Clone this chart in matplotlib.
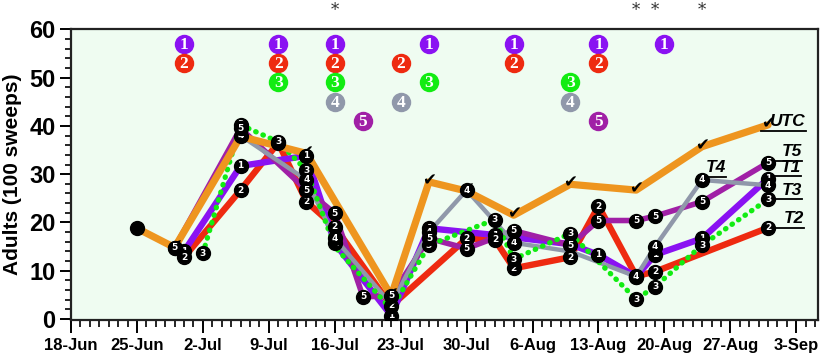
import matplotlib
matplotlib.use("Agg")
import matplotlib.pyplot as plt
import matplotlib.ticker as mticker
import matplotlib.transforms as mtransforms
import pandas as pd

YEAR = "2015"


def dt(s):
    return pd.Timestamp(f"{s}-{YEAR}")


# --- data --------------------------------------------------------------
utc_dates = ["25-Jun", "29-Jun", "6-Jul", "13-Jul", "22-Jul", "26-Jul", "30-Jul",
             "4-Aug", "10-Aug", "17-Aug", "24-Aug", "31-Aug"]
utc_vals = [18.8, 14.8, 37.8, 34.3, 4.8, 28.4, 26.5, 21.5, 27.9, 26.7, 35.7, 40.2]

t1_dates = ["30-Jun", "6-Jul", "13-Jul", "16-Jul", "22-Jul", "26-Jul",
            "2-Aug", "10-Aug", "13-Aug", "17-Aug", "19-Aug", "24-Aug", "31-Aug"]
t1_vals = [14.0, 31.7, 33.8, 15.7, 0.7, 18.8, 17.4, 15.5, 13.3, 8.8, 13.3, 16.7, 29.1]

t2_dates = ["30-Jun", "6-Jul", "10-Jul", "13-Jul", "16-Jul", "22-Jul", "30-Jul", "2-Aug",
            "4-Aug", "10-Aug", "13-Aug", "17-Aug", "19-Aug", "31-Aug"]
t2_vals = [12.8, 26.7, 36.5, 24.3, 19.1, 2.7, 16.7, 16.4, 10.5, 12.8, 23.4, 8.9, 9.8, 18.9]

t3_dates = ["2-Jul", "6-Jul", "10-Jul", "13-Jul", "16-Jul", "22-Jul", "26-Jul", "2-Aug",
            "4-Aug", "10-Aug", "17-Aug", "19-Aug", "24-Aug", "31-Aug"]
t3_vals = [13.6, 40.2, 36.7, 30.8, 15.0, 2.0, 15.3, 20.6, 12.4, 17.7, 4.1, 6.7, 15.3, 24.8]

t4_dates = ["29-Jun", "6-Jul", "13-Jul", "16-Jul", "22-Jul", "26-Jul", "30-Jul", "4-Aug",
            "10-Aug", "17-Aug", "19-Aug", "24-Aug", "31-Aug"]
t4_vals = [14.8, 38.0, 28.8, 16.7, 3.0, 18.0, 26.7, 15.8, 14.0, 8.8, 15.0, 28.8, 27.7]

t5_dates = ["29-Jun", "6-Jul", "13-Jul", "16-Jul", "19-Jul", "22-Jul", "26-Jul", "30-Jul",
            "4-Aug", "10-Aug", "13-Aug", "17-Aug", "19-Aug", "24-Aug", "31-Aug"]
t5_vals = [14.8, 39.5, 26.7, 21.9, 4.6, 4.8, 16.7, 14.6, 18.3, 15.3, 20.4, 20.4, 21.3, 24.3, 32.4]

# points whose marker is hidden in the original
no_marker = {(3, "16-Jul"), (4, "10-Aug"), (1, "10-Aug"), (3, "22-Jul"), (4, "22-Jul")}

# spray dates per treatment (coloured numbered circles at top)
spray_dates = {
    1: ["30-Jun", "10-Jul", "16-Jul", "26-Jul", "4-Aug", "13-Aug", "20-Aug"],
    2: ["30-Jun", "10-Jul", "16-Jul", "23-Jul", "4-Aug", "13-Aug"],
    3: ["10-Jul", "16-Jul", "26-Jul", "10-Aug"],
    4: ["16-Jul", "23-Jul", "10-Aug"],
    5: ["19-Jul", "13-Aug"],
}
star_dates = ["16-Jul", "17-Aug", "19-Aug", "24-Aug"]

tick_start = "18-Jun"
n_ticks = 12

# --- styles --------------------------------------------------------------
c_t1 = "#8A12F2"
c_t2 = "#EE2A10"
c_t3 = "#12EC12"
c_t4 = "#9098AA"
c_t5 = "#A020A6"
c_utc = "#EE951F"
bg = "#EFFCF1"

fig = plt.figure(figsize=(8.21, 3.53), dpi=100)
ax = fig.add_axes([0.0865, 0.0935, 0.9098, 0.8235])
ax.set_facecolor(bg)

series = {
    1: (t1_dates, t1_vals, c_t1, 4.6, "-"),
    2: (t2_dates, t2_vals, c_t2, 4.6, "-"),
    3: (t3_dates, t3_vals, c_t3, 3.8, (0, (0.1, 1.4))),
    4: (t4_dates, t4_vals, c_t4, 3.2, "-"),
    5: (t5_dates, t5_vals, c_t5, 4.0, "-"),
}
line_order = [2, 1, 5, 4, 3]
marker_order = [1, 2, 3, 4, 5]

for num in line_order:
    ds, vs, col, lw, ls = series[num]
    xs = [dt(s) for s in ds]
    ax.plot(xs, vs, color=col, lw=lw, ls=ls, solid_capstyle="round",
            dash_capstyle="round", solid_joinstyle="round", zorder=2)

utc_x = [dt(s) for s in utc_dates]
ax.plot(utc_x, utc_vals, color=c_utc, lw=5.2, solid_joinstyle="round",
        solid_capstyle="round", zorder=3)

# UTC check marks
for x, y in zip(utc_x[1:], utc_vals[1:]):
    ax.text(x, y + 0.3, "\u2714", ha="center", va="center", fontsize=12,
            color="black", family="DejaVu Sans", zorder=4)
ax.plot(utc_x[0], utc_vals[0], "o", ms=10, color="black", zorder=5)

# numbered black markers
z = 5
for num in marker_order:
    ds, vs, col, lw, ls = series[num]
    for s, v in zip(ds, vs):
        if (num, s) in no_marker:
            continue
        ax.plot(dt(s), v, "o", ms=10, color="black", zorder=z)
        ax.text(dt(s), v, str(num), ha="center", va="center", color="white",
                fontsize=6.5, fontweight="bold", zorder=z + 0.5)
    z += 1

# spray circles at the top
spray_cols = {1: c_t1, 2: c_t2, 3: c_t3, 4: c_t4, 5: c_t5}
for num, ds in spray_dates.items():
    yrow = 57 - 4 * (num - 1)
    for s in ds:
        ax.plot(dt(s), yrow, "o", ms=14, color=spray_cols[num], mew=0, zorder=5)
        ax.text(dt(s), yrow - 0.2, str(num), ha="center", va="center", color="white",
                fontsize=12.5, fontweight="bold", family="Liberation Serif", zorder=6)

# significance asterisks above the plot
trans = mtransforms.blended_transform_factory(ax.transData, ax.transAxes)
for s in star_dates:
    ax.text(dt(s), 1.065, "*", transform=trans, ha="center", va="center",
            fontsize=12, color="#333333", family="DejaVu Serif", clip_on=False)

# end labels with underline
lab_font = dict(fontsize=12.5, fontweight="bold", style="italic", family="Liberation Sans")
end_labels = [
    ("UTC", utc_dates[-1], utc_vals[-1] - 1.2, -0.8, 4.0),
    ("T5", t5_dates[-1], t5_vals[-1] + 0.4, 0.0, 3.6),
    ("T1", t1_dates[-1], t1_vals[-1] + 0.5, 0.0, 3.5),
    ("T3", t3_dates[-1], t3_vals[-1] + 0.0, 0.0, 3.6),
    ("T2", t2_dates[-1], t2_vals[-1] + 0.0, 0.0, 3.8),
    ("T4", t4_dates[-2], t4_vals[-2] + 0.7, 0.0, 2.5),
]
for lab, s, y, d0, d1 in end_labels:
    x0 = dt(s) + pd.Timedelta(days=d0)
    x1 = dt(s) + pd.Timedelta(days=d1)
    ax.plot([x0, x1], [y, y], color="black", lw=1.3, zorder=4)
    ax.text(x1, y + 0.3, lab, ha="right", va="bottom", zorder=12, **lab_font)

# axes
ax.set_ylim(-0.2, 60)
ax.set_xlim(dt(tick_start), dt(tick_start) + pd.Timedelta(days=79.3))
major = pd.date_range(dt(tick_start), periods=n_ticks, freq="7D")
ax.xaxis.set_major_locator(mticker.FixedLocator(matplotlib.dates.date2num(major)))
ax.xaxis.set_minor_locator(matplotlib.dates.DayLocator())
ax.xaxis.set_major_formatter(mticker.FuncFormatter(
    lambda v, p: "{}-{}".format(matplotlib.dates.num2date(v).day,
                                matplotlib.dates.num2date(v).strftime("%b"))))
ax.yaxis.set_major_locator(mticker.MultipleLocator(10))
ax.yaxis.set_minor_locator(mticker.MultipleLocator(2))

ax.tick_params(axis="x", which="major", length=9, width=1.4, pad=4, labelsize=12)
ax.tick_params(axis="x", which="minor", length=5, width=1.2)
ax.tick_params(axis="y", which="major", length=8, width=1.4, pad=3, labelsize=17)
ax.tick_params(axis="y", which="minor", length=4, width=1.2)
for lbl in ax.get_xticklabels() + ax.get_yticklabels():
    lbl.set_fontweight("bold")
    lbl.set_family("Liberation Sans")

for sp in ax.spines.values():
    sp.set_linewidth(1.6)
    sp.set_color("#222222")

ax.set_ylabel("Adults (100 sweeps)", fontsize=15, fontweight="bold", family="Liberation Sans")
ax.yaxis.set_label_coords(-0.066, 0.5)

fig.savefig("out.png", dpi=100)
